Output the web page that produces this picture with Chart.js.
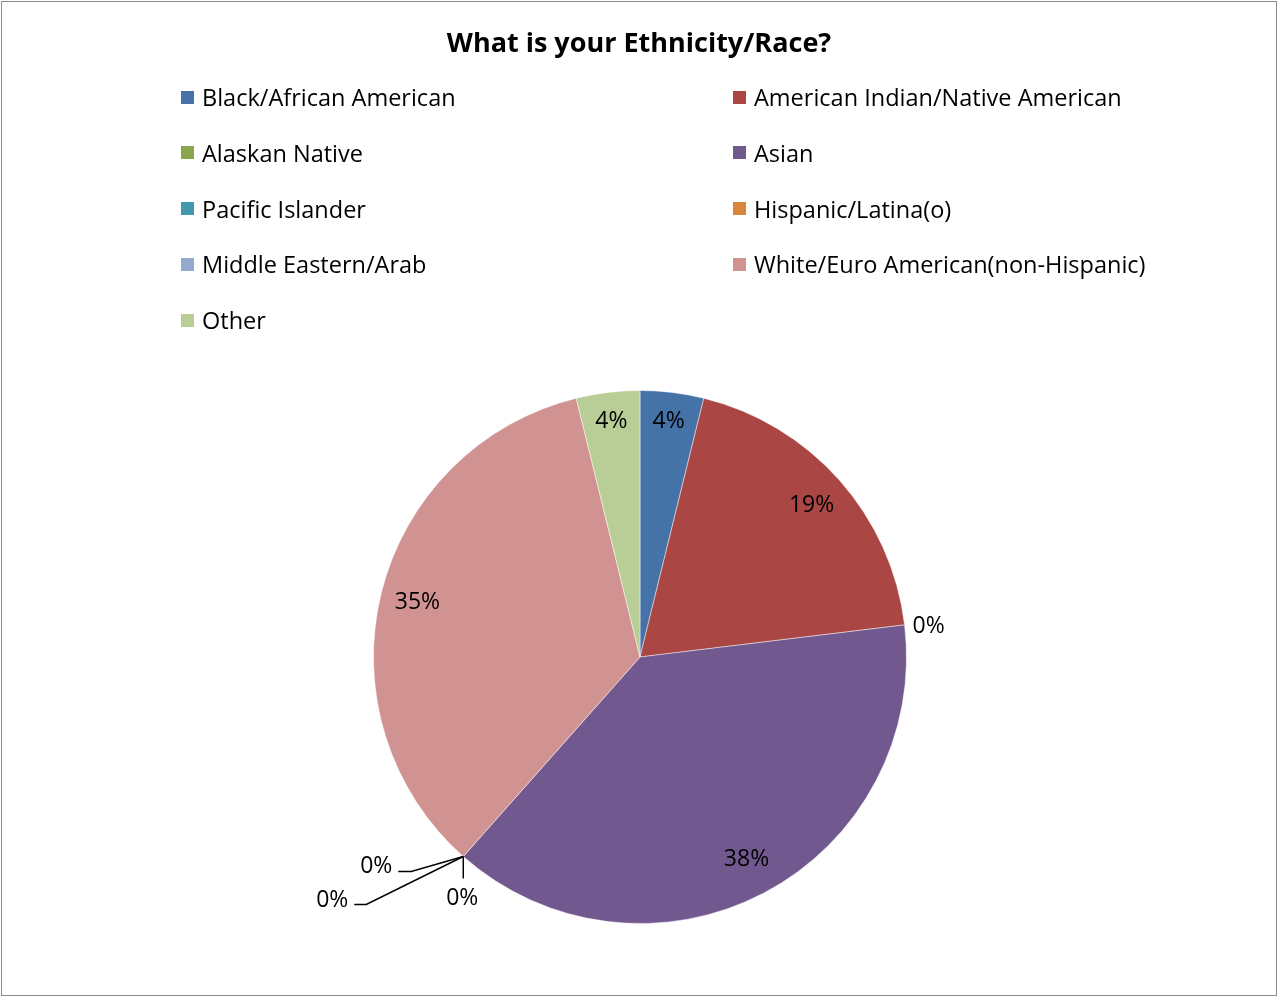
<!DOCTYPE html>
<html>
<head>
<meta charset="utf-8">
<script src="https://cdn.jsdelivr.net/npm/chart.js@4.4.0/dist/chart.umd.min.js"></script>
<style>
body{margin:0;background:#fff;font-family:"Open Sans", sans-serif;}
#frame{position:absolute;left:1px;top:1px;width:1274px;height:993px;border:1px solid #8c8c8c;}
#title{position:absolute;left:0;width:1278px;top:23px;text-align:center;font-weight:bold;font-size:27px;color:#000;}
#legend{position:absolute;left:181px;top:69px;}
.item{position:absolute;height:56px;display:flex;align-items:center;font-size:23.5px;white-space:nowrap;color:#000;}
.box{width:13px;height:13px;margin-right:8px;}
#wrap{position:absolute;left:0;top:0;width:1278px;height:997px;}
</style>
</head>
<body>
<div id="frame"></div>
<div id="wrap"><canvas id="myPieChart"></canvas></div>
<div id="title">What is your Ethnicity/Race?</div>
<div id="legend"></div>

<script>
var categories = ["Black/African American", "American Indian/Native American", "Alaskan Native", "Asian",
  "Pacific Islander", "Hispanic/Latina(o)", "Middle Eastern/Arab", "White/Euro American(non-Hispanic)", "Other"];
var counts = [1, 5, 0, 10, 0, 0, 0, 9, 1];
var colors = ["#4572A7", "#AA4643", "#89A54E", "#71588F", "#4198AF", "#DB843D", "#93A9CF", "#D19392", "#B9CD96"];

var total = counts.reduce(function(a, b) { return a + b; }, 0);

// legend, two columns
var legend = document.getElementById("legend");
categories.forEach(function(name, i) {
  var item = document.createElement("div");
  item.className = "item";
  item.style.left = (i % 2) * 552 + "px";
  item.style.top = Math.floor(i / 2) * 55.75 + "px";
  item.innerHTML = '<span class="box" style="background:' + colors[i] + '"></span>' + name;
  legend.appendChild(item);
});

// leader lines for the 0% slices: [points..., text position], relative to slice edge
var zeroLeaders = {
  2: {line: [], text: [24, 2]},
  4: {line: [[-52, 15], [-65, 15]], text: [-87, 10]},
  5: {line: [[-97, 48], [-109, 48]], text: [-131, 44]},
  6: {line: [[0, 22]], text: [-1, 42]}
};

var pieLabels = {
  id: "pieLabels",
  afterDatasetsDraw: function(chart) {
    var ctx = chart.ctx;
    var meta = chart.getDatasetMeta(0);
    ctx.save();
    ctx.font = "23px 'Open Sans'";
    ctx.fillStyle = "#000";
    ctx.strokeStyle = "#000";
    ctx.lineWidth = 1.5;
    ctx.textAlign = "center";
    ctx.textBaseline = "middle";
    meta.data.forEach(function(arc, i) {
      var p = arc.getProps(["x", "y", "startAngle", "endAngle", "outerRadius"], true);
      var txt = Math.round(counts[i] / total * 100) + "%";
      if (counts[i] > 0) {
        var mid = (p.startAngle + p.endAngle) / 2;
        var r = p.outerRadius * (counts[i] / total < 0.1 ? 0.89 : 0.86);
        ctx.fillText(txt, p.x + Math.cos(mid) * r, p.y + Math.sin(mid) * r);
      } else {
        var ex = p.x + Math.cos(p.startAngle) * p.outerRadius;
        var ey = p.y + Math.sin(p.startAngle) * p.outerRadius;
        var z = zeroLeaders[i];
        if (z.line.length) {
          ctx.beginPath();
          ctx.moveTo(ex, ey);
          z.line.forEach(function(pt) { ctx.lineTo(ex + pt[0], ey + pt[1]); });
          ctx.stroke();
        }
        ctx.fillText(txt, ex + z.text[0], ey + z.text[1]);
      }
    });
    ctx.restore();
  }
};

var pieChart = new Chart("myPieChart", {
  type: "pie",
  data: {
    labels: categories,
    datasets: [{
      data: counts,
      backgroundColor: colors,
      borderColor: "rgba(255,255,255,0.45)",
      borderWidth: 1
    }]
  },
  options: {
    responsive: true,
    maintainAspectRatio: false,
    animation: false,
    events: [],
    layout: {padding: {top: 390, bottom: 73, left: 2, right: 0}},
    plugins: {
      legend: {display: false},
      tooltip: {enabled: false}
    }
  },
  plugins: [pieLabels]
});
</script>
</body>
</html>
